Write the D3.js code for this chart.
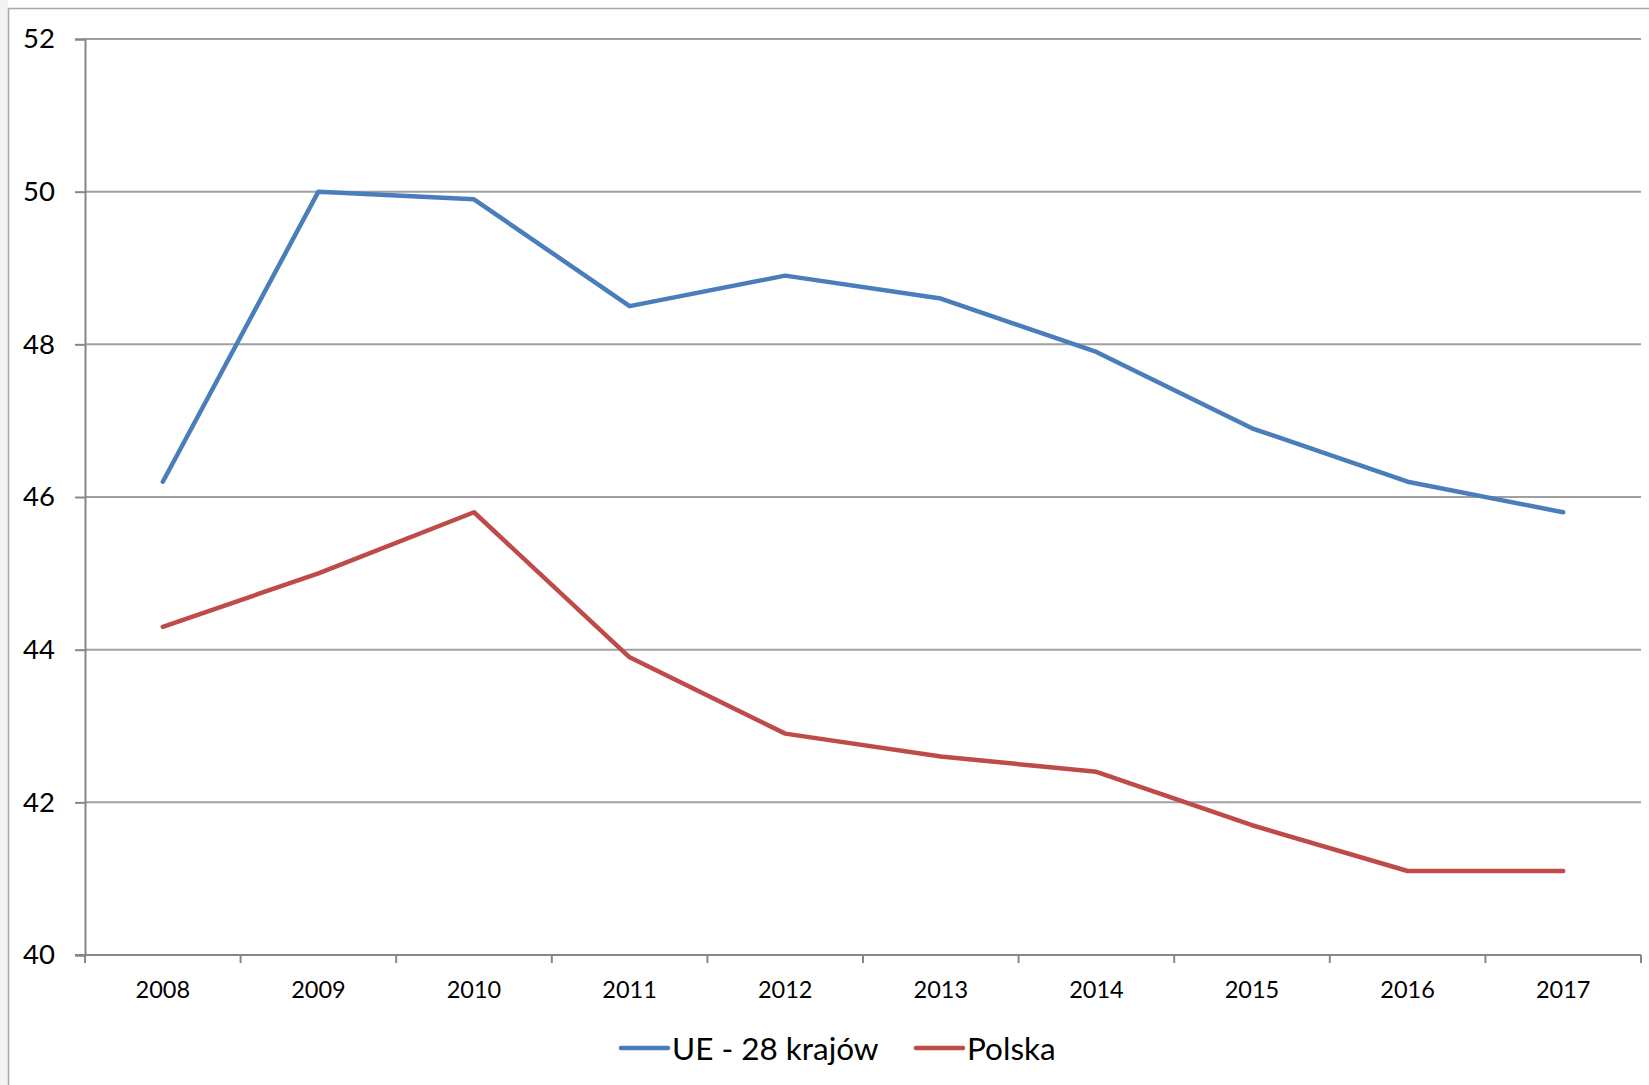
<!DOCTYPE html>
<html>
<head>
<meta charset="utf-8">
<script src="https://cdn.jsdelivr.net/npm/d3@7"></script>
<style>
  html, body { margin: 0; padding: 0; background: #fff; }
  svg { display: block; font-family: Lato, "Open Sans", sans-serif; }
</style>
</head>
<body>
<svg id="chart" width="1649" height="1085"></svg>
<script>
const years = ["2008","2009","2010","2011","2012","2013","2014","2015","2016","2017"];
const ueValues = [46.2, 50.0, 49.9, 48.5, 48.9, 48.6, 47.9, 46.9, 46.2, 45.8];
const plValues = [44.3, 45.0, 45.8, 43.9, 42.9, 42.6, 42.4, 41.7, 41.1, 41.1];
const yTicks = [40, 42, 44, 46, 48, 50, 52];
const seriesNames = ["UE - 28 krajów", "Polska"];
const seriesColors = ["#4a7ebb", "#be4b48"];

(function () {
const svg = d3.select("#chart");

// outer frame
svg.append("rect").attr("x", 0).attr("y", 0).attr("width", 8).attr("height", 1085).attr("fill", "#f3f3f3");
svg.append("rect").attr("x", 8.5).attr("y", 8.5).attr("width", 1700).attr("height", 1200)
  .attr("fill", "#fff").attr("stroke", "#a8a8a8").attr("stroke-width", 1.5);

const pL = 85, pR = 1641, pT = 39, pB = 955;
const x = d3.scaleBand().domain(years).range([pL, pR]).padding(0);
const y = d3.scaleLinear().domain([40, 52]).range([pB, pT]);

// gridlines
svg.append("g").selectAll("line").data(yTicks.filter(t => t !== 40)).join("line")
  .attr("x1", pL).attr("x2", pR)
  .attr("y1", d => y(d)).attr("y2", d => y(d))
  .attr("stroke", "#a0a0a0").attr("stroke-width", 2);

// y axis
const yAxis = d3.axisLeft(y).tickValues(yTicks).tickSize(10).tickPadding(20).tickFormat(d3.format("d"));
const gy = svg.append("g").attr("transform", `translate(${pL},0)`).call(yAxis);
gy.select(".domain").attr("stroke", "#868686").attr("stroke-width", 2);
gy.selectAll(".tick line").attr("stroke", "#868686").attr("stroke-width", 2);
gy.selectAll(".tick text").attr("font-size", 27.5).attr("fill", "#000")
  .attr("font-family", "Lato, 'Open Sans', sans-serif");

// x axis
const xAxis = d3.axisBottom(x).tickSize(0).tickPadding(0);
const gx = svg.append("g").attr("transform", `translate(0,${pB})`).call(xAxis);
gx.select(".domain").remove();
gx.append("line").attr("x1", pL - 10).attr("x2", pR).attr("y1", 0).attr("y2", 0)
  .attr("stroke", "#868686").attr("stroke-width", 2);
const boundaries = years.map(d => x(d)).concat([pR]);
gx.selectAll(".bound").data(boundaries).join("line").attr("class", "bound")
  .attr("x1", d => d).attr("x2", d => d).attr("y1", 0).attr("y2", 8)
  .attr("stroke", "#868686").attr("stroke-width", 2);
gx.selectAll(".tick text").attr("font-size", 23.5).attr("fill", "#000").attr("dy", 0)
  .attr("y", 43).attr("font-family", "Lato, 'Open Sans', sans-serif");

// lines
const line = d3.line().x((d, i) => x(years[i]) + x.bandwidth() / 2).y(d => y(d));
[ueValues, plValues].forEach((vals, k) => {
  svg.append("path").datum(vals).attr("d", line)
    .attr("fill", "none").attr("stroke", seriesColors[k]).attr("stroke-width", 4.5)
    .attr("stroke-linecap", "round").attr("stroke-linejoin", "round");
});

// legend
const legendItems = [
  { name: seriesNames[0], color: seriesColors[0], x0: 621 },
  { name: seriesNames[1], color: seriesColors[1], x0: 916 }
];
const lg = svg.append("g");
legendItems.forEach(it => {
  lg.append("line").attr("x1", it.x0).attr("x2", it.x0 + 47).attr("y1", 1048).attr("y2", 1048)
    .attr("stroke", it.color).attr("stroke-width", 4.5).attr("stroke-linecap", "round");
  lg.append("text").attr("x", it.x0 + 51).attr("y", 1060).attr("font-size", 31.5).attr("fill", "#000")
    .text(it.name);
});
})();
</script>
</body>
</html>
